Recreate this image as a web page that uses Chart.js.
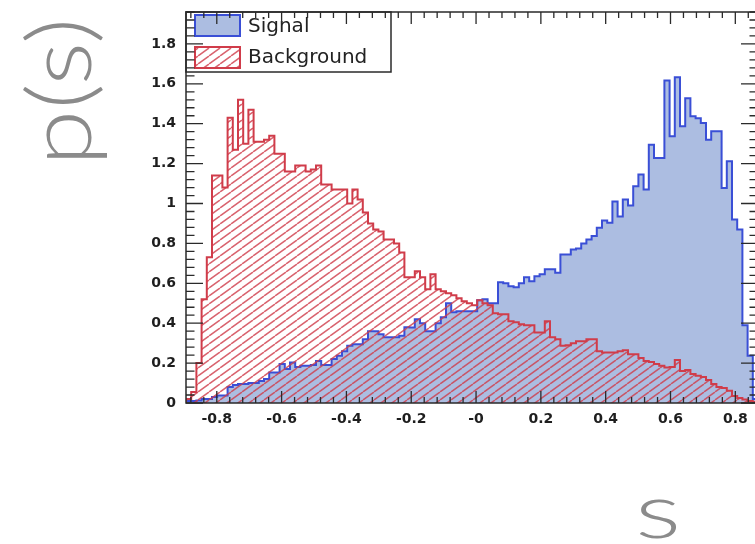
<!DOCTYPE html>
<html>
<head>
<meta charset="utf-8">
<script src="https://cdn.jsdelivr.net/npm/chart.js@4.4.1/dist/chart.umd.min.js"></script>
<style>
  html, body { margin: 0; padding: 0; background: #fff; overflow: hidden; }
  #wrap { position: absolute; left: 0; top: 0; width: 770px; height: 544px; }
</style>
</head>
<body>
<div id="wrap"><canvas id="c" width="770" height="544"></canvas></div>
<script>
// Classifier response s, histogram range (equal-width bins spanning it)
const xRange = [-0.895, 0.870];
const yMax = 1.96;

// Normalised signal distribution p(s), one value per bin
const signal = [
  0.01, 0.01, 0.012, 0.02, 0.02, 0.03, 0.037, 0.037, 0.08, 0.09,
  0.095, 0.095, 0.10, 0.10, 0.11, 0.12, 0.153, 0.153, 0.195, 0.17,
  0.203, 0.18, 0.187, 0.187, 0.19, 0.21, 0.19, 0.19, 0.22, 0.237,
  0.26, 0.287, 0.295, 0.295, 0.32, 0.36, 0.36, 0.345, 0.33, 0.33,
  0.33, 0.337, 0.38, 0.378, 0.42, 0.40, 0.36, 0.36, 0.40, 0.43,
  0.50, 0.455, 0.46, 0.46, 0.46, 0.46, 0.515, 0.52, 0.50, 0.50,
  0.605, 0.60, 0.585, 0.58, 0.60, 0.63, 0.61, 0.635, 0.645, 0.67,
  0.67, 0.653, 0.745, 0.745, 0.77, 0.775, 0.80, 0.82, 0.837, 0.878,
  0.915, 0.903, 1.01, 0.935, 1.02, 0.99, 1.087, 1.145, 1.07, 1.295,
  1.228, 1.228, 1.617, 1.337, 1.633, 1.387, 1.528, 1.437, 1.428, 1.403,
  1.32, 1.362, 1.362, 1.078, 1.212, 0.92, 0.87, 0.39, 0.237, 0.02
];

// Normalised background distribution p(s), one value per bin
const background = [
  0.02, 0.055, 0.20, 0.52, 0.73, 1.14, 1.14, 1.08, 1.43, 1.27,
  1.52, 1.30, 1.47, 1.31, 1.31, 1.32, 1.34, 1.25, 1.25, 1.16,
  1.16, 1.19, 1.19, 1.16, 1.17, 1.19, 1.095, 1.095, 1.07, 1.07,
  1.07, 1.00, 1.07, 1.02, 0.955, 0.90, 0.87, 0.86, 0.82, 0.82,
  0.80, 0.755, 0.63, 0.63, 0.66, 0.63, 0.57, 0.645, 0.57, 0.56,
  0.55, 0.54, 0.525, 0.51, 0.50, 0.49, 0.515, 0.50, 0.49, 0.45,
  0.445, 0.445, 0.41, 0.405, 0.395, 0.39, 0.39, 0.353, 0.353, 0.41,
  0.33, 0.32, 0.287, 0.29, 0.30, 0.31, 0.31, 0.32, 0.32, 0.26,
  0.253, 0.253, 0.253, 0.26, 0.265, 0.245, 0.245, 0.225, 0.21, 0.205,
  0.195, 0.187, 0.178, 0.18, 0.215, 0.16, 0.165, 0.145, 0.137, 0.13,
  0.115, 0.095, 0.08, 0.075, 0.062, 0.035, 0.025, 0.018, 0.01, 0.005
];

const seriesNames = ['Signal', 'Background'];

const xTickValues = [-0.8, -0.6, -0.4, -0.2, 0, 0.2, 0.4, 0.6, 0.8];
const xTickLabels = ['-0.8', '-0.6', '-0.4', '-0.2', '-0', '0.2', '0.4', '0.6', '0.8'];
const yTickValues = [0, 0.2, 0.4, 0.6, 0.8, 1.0, 1.2, 1.4, 1.6, 1.8];
const yTickLabels = ['0', '0.2', '0.4', '0.6', '0.8', '1', '1.2', '1.4', '1.6', '1.8'];

const xTitle = 's';
const yTitle = 'p(s)';

// Turn bin contents into step-outline points (closed down to zero at both ends).
// Each point carries the content of the bin that ends at the next point.
function histPoints(vals) {
  const w = (xRange[1] - xRange[0]) / vals.length;
  const pts = [{ x: xRange[0], y: 0 }];
  vals.forEach((v, i) => pts.push({ x: xRange[0] + i * w, y: v }));
  pts.push({ x: xRange[1], y: vals[vals.length - 1] });
  pts.push({ x: xRange[1], y: 0 });
  return pts;
}

const canvas = document.getElementById('c');
const ctx = canvas.getContext('2d');

const SIG_FILL = '#acbde1';
const SIG_LINE = '#3a4fd6';
const BKG_LINE = '#d03c4a';

// Diagonal hatching for the background histogram
function hatchPattern(color) {
  const t = document.createElement('canvas');
  t.width = 11; t.height = 8;
  const g = t.getContext('2d');
  g.strokeStyle = color;
  g.lineWidth = 1.5;
  g.beginPath();
  for (const dx of [-11, 0, 11]) { g.moveTo(dx, 8); g.lineTo(dx + 11, 0); }
  g.stroke();
  return ctx.createPattern(t, 'repeat');
}
const bkgHatch = hatchPattern('rgba(208,60,74,0.8)');

// Legend box in the upper-left corner of the frame
const legendBox = {
  id: 'legendBox',
  afterDatasetsDraw(chart) {
    const c = chart.ctx, a = chart.chartArea;
    const ds = chart.data.datasets;
    const bx = a.left, by = a.top, bw = 205, bh = 60;
    c.save();
    c.fillStyle = '#fff';
    c.fillRect(bx, by, bw, bh);
    c.strokeStyle = '#2a2a2a';
    c.lineWidth = 1.5;
    c.strokeRect(bx, by, bw, bh);
    const rows = [
      { y: by + 3, fill: ds[0].backgroundColor, line: ds[0].borderColor, label: ds[0].label, base: by + 20 },
      { y: by + 35, fill: ds[1].backgroundColor, line: ds[1].borderColor, label: ds[1].label, base: by + 51 }
    ];
    c.font = '20px "DejaVu Sans", sans-serif';
    c.textBaseline = 'alphabetic';
    c.textAlign = 'left';
    rows.forEach(r => {
      c.fillStyle = r.fill;
      c.fillRect(bx + 9, r.y, 45, 21);
      c.strokeStyle = r.line;
      c.lineWidth = 2;
      c.strokeRect(bx + 9, r.y, 45, 21);
      c.fillStyle = '#222';
      c.fillText(r.label, bx + 62, r.base);
    });
    c.restore();
  }
};

// Closed frame with inward ticks on all four sides
const frameTicks = {
  id: 'frameTicks',
  afterDraw(chart) {
    const c = chart.ctx, a = chart.chartArea;
    const xs = chart.scales.x, ys = chart.scales.y;
    c.save();
    c.strokeStyle = '#2a2a2a';
    c.lineWidth = 1.5;
    c.strokeRect(a.left, a.top, a.right - a.left, a.bottom - a.top);
    c.lineWidth = 1.3;
    c.beginPath();
    const step = 0.04;
    for (let k = Math.ceil(xs.min / step - 1e-9); k * step <= xs.max + 1e-9; k++) {
      const px = xs.getPixelForValue(k * step);
      const len = (k % 5 === 0) ? 12 : 6;
      c.moveTo(px, a.bottom); c.lineTo(px, a.bottom - len);
      c.moveTo(px, a.top); c.lineTo(px, a.top + len);
    }
    for (let k = 0; k * step <= ys.max + 1e-9; k++) {
      const py = ys.getPixelForValue(k * step);
      const len = (k % 5 === 0) ? 17 : 8.5;
      c.moveTo(a.left, py); c.lineTo(a.left + len, py);
      c.moveTo(a.right, py); c.lineTo(a.right - len, py);
    }
    c.stroke();
    c.restore();
  }
};

// Large grey axis titles
const axisTitles = {
  id: 'axisTitles',
  afterDraw(chart) {
    const c = chart.ctx, a = chart.chartArea;
    c.save();
    c.fillStyle = '#8b8b8b';
    c.font = '300 80px Lato, "Liberation Sans", sans-serif';
    c.textAlign = 'center';
    c.textBaseline = 'alphabetic';
    c.save();
    c.translate(a.left - 95, a.top + 80);
    c.rotate(-Math.PI / 2);
    c.scale(1.28, 1.12);
    c.fillText(yTitle, 0, 0);
    c.restore();
    c.save();
    c.translate(658, 538);
    c.scale(1.36, 0.96);
    c.fillText(xTitle, 0, 0);
    c.restore();
    c.restore();
  }
};

const tickFont = { family: '"DejaVu Sans", sans-serif', weight: 'bold', size: 14 };

new Chart(ctx, {
  type: 'line',
  data: {
    datasets: [
      {
        label: seriesNames[0],
        data: histPoints(signal),
        stepped: 'before',
        fill: 'origin',
        backgroundColor: SIG_FILL,
        borderColor: SIG_LINE,
        borderWidth: 2,
        pointRadius: 0,
        order: 2
      },
      {
        label: seriesNames[1],
        data: histPoints(background),
        stepped: 'before',
        fill: 'origin',
        backgroundColor: bkgHatch,
        borderColor: BKG_LINE,
        borderWidth: 2,
        pointRadius: 0,
        order: 1
      }
    ]
  },
  options: {
    responsive: false,
    animation: false,
    layout: { padding: { top: 12, right: 12, left: 0, bottom: 0 } },
    plugins: { legend: { display: false }, tooltip: { enabled: false } },
    scales: {
      x: {
        type: 'linear',
        min: xRange[0],
        max: xRange[1],
        grid: { display: false, drawTicks: false },
        border: { display: false },
        afterBuildTicks: s => { s.ticks = xTickValues.map(v => ({ value: v })); },
        afterFit: s => { s.height = 141; s.paddingLeft = 0; s.paddingRight = 0; },
        ticks: {
          autoSkip: false, maxRotation: 0, minRotation: 0, padding: 8,
          color: '#1e1e1e', font: tickFont,
          callback: (v, i) => xTickLabels[i]
        }
      },
      y: {
        type: 'linear',
        min: 0,
        max: yMax,
        grid: { display: false, drawTicks: false },
        border: { display: false },
        afterBuildTicks: s => { s.ticks = yTickValues.map(v => ({ value: v })); },
        afterFit: s => { s.width = 186; s.paddingTop = 0; s.paddingBottom = 0; },
        ticks: {
          autoSkip: false, padding: 10,
          color: '#1e1e1e', font: tickFont,
          callback: (v, i) => yTickLabels[i]
        }
      }
    }
  },
  plugins: [legendBox, frameTicks, axisTitles]
});
</script>
</body>
</html>
